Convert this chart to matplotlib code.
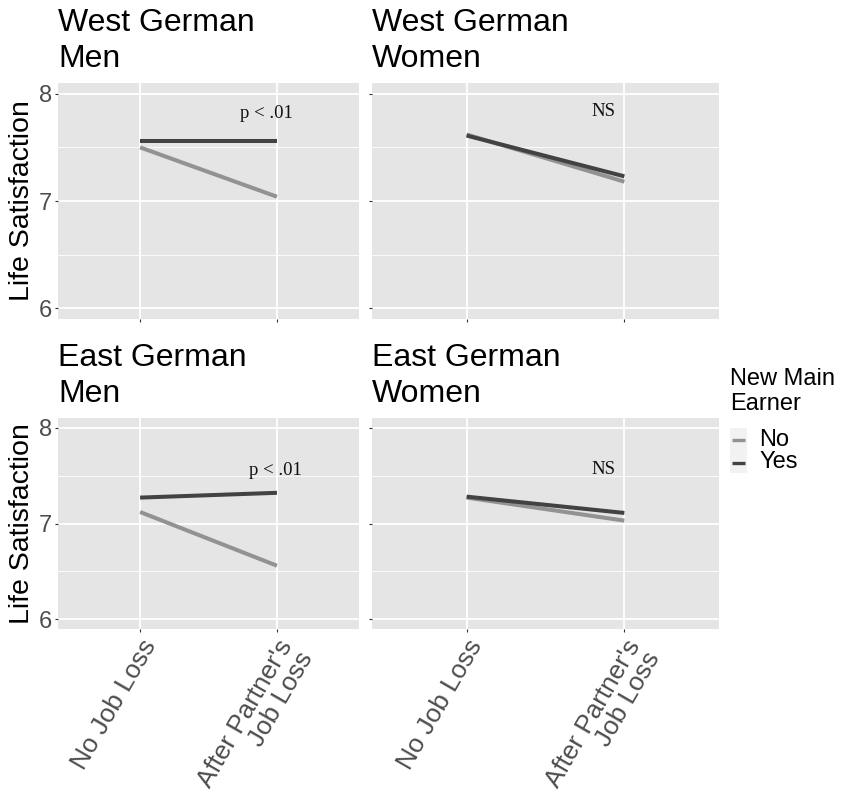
import matplotlib
matplotlib.use("Agg")
import matplotlib.pyplot as plt
from matplotlib.lines import Line2D
from matplotlib.patches import Rectangle

plt.rcParams["font.family"] = ["Liberation Sans", "DejaVu Sans"]

# ---- data -------------------------------------------------------------
panel_titles = ["West German\nMen", "West German\nWomen",
                "East German\nMen", "East German\nWomen"]
conditions = ["No Job Loss", "After Partner's\nJob Loss"]
series_names = ["No", "Yes"]

# life satisfaction: [No Job Loss, After Partner's Job Loss]
no_main_earner = [[7.50, 7.04],
                  [7.62, 7.18],
                  [7.12, 6.56],
                  [7.27, 7.03]]
yes_main_earner = [[7.555, 7.555],
                   [7.61, 7.23],
                   [7.27, 7.32],
                   [7.28, 7.11]]

sig_labels = ["p < .01", "NS", "p < .01", "NS"]
sig_x = [1.92, 1.865, 1.99, 1.865]
sig_y = [7.82, 7.83, 7.55, 7.56]

y_ticks = [6, 7, 8]
y_minor = [6.5, 7.5]

# ---- style ------------------------------------------------------------
W, H = 841, 807
colors = {"No": "#929292", "Yes": "#424242"}
panel_bg = "#E5E5E5"
tick_col = "#4D4D4D"

fig = plt.figure(figsize=(W / 100, H / 100), dpi=100)

# panel boxes in pixels: (left, top, right, bottom)
boxes = [(58, 83, 359, 319), (372, 83, 719, 319),
         (58, 418, 359, 629), (372, 418, 719, 629)]
title_tops = [8, 8, 343, 343]

x_pos = [1, 2]
axes = []
for i, (l, t, r, b) in enumerate(boxes):
    ax = fig.add_axes([l / W, 1 - b / H, (r - l) / W, (b - t) / H])
    axes.append(ax)
    ax.set_facecolor(panel_bg)
    for s in ax.spines.values():
        s.set_visible(False)
    ax.set_xlim(0.4, 2.6)
    ax.set_ylim(5.9, 8.1)
    ax.set_yticks(y_ticks)
    ax.set_yticks(y_minor, minor=True)
    ax.set_xticks(x_pos)
    ax.grid(which="major", color="white", linewidth=1.3)
    ax.grid(which="minor", axis="y", color="white", linewidth=0.6)
    ax.set_axisbelow(True)
    ax.tick_params(which="major", length=2.5, width=0.8, color="#333333",
                   labelcolor=tick_col)
    ax.tick_params(which="minor", length=0)

    ax.plot(x_pos, no_main_earner[i], color=colors["No"], lw=2.9,
            solid_capstyle="butt")
    ax.plot(x_pos, yes_main_earner[i], color=colors["Yes"], lw=2.9,
            solid_capstyle="butt")
    ax.text(sig_x[i], sig_y[i], sig_labels[i], ha="center", va="center",
            fontsize=13.5, family=["Liberation Serif", "DejaVu Serif"],
            color="#111111")

    if i % 2 == 0:
        ax.set_yticklabels([str(v) for v in y_ticks], fontsize=17)
        ax.tick_params(axis="y", pad=2)
    else:
        ax.set_yticklabels([])
    if i >= 2:
        ax.set_xticklabels(conditions, fontsize=18.8, rotation=60, ha="right",
                           va="top", rotation_mode="anchor", linespacing=0.95)
        ax.tick_params(axis="x", pad=2.5)
    else:
        ax.set_xticklabels([])

    fig.text(l / W, 1 - title_tops[i] / H, panel_titles[i], ha="left",
             va="top", fontsize=23, linespacing=1.28, color="black")

# y-axis titles
for (l, t, r, b) in (boxes[0], boxes[2]):
    fig.text(22 / W, 1 - (t + b) / 2 / H, "Life Satisfaction", rotation=90,
             ha="center", va="center", fontsize=20.5, color="black")

# legend
fig.text(730 / W, 1 - 368 / H, "New Main\nEarner", ha="left", va="top",
         fontsize=17, linespacing=1.15)
fig.add_artist(Rectangle((730 / W, 1 - 473 / H), 17 / W, 45 / H,
                         transform=fig.transFigure, facecolor="#F2F2F2",
                         edgecolor="none"))
key_y = [439.5, 462.5]
for name, ky in zip(series_names, key_y):
    fig.add_artist(Line2D([732 / W, 745 / W], [1 - ky / H, 1 - ky / H],
                          transform=fig.transFigure, color=colors[name],
                          lw=2.4, solid_capstyle="butt"))
    fig.text(759 / W, 1 - ky / H, name, ha="left", va="center", fontsize=17)

fig.savefig("out.png", dpi=100)
